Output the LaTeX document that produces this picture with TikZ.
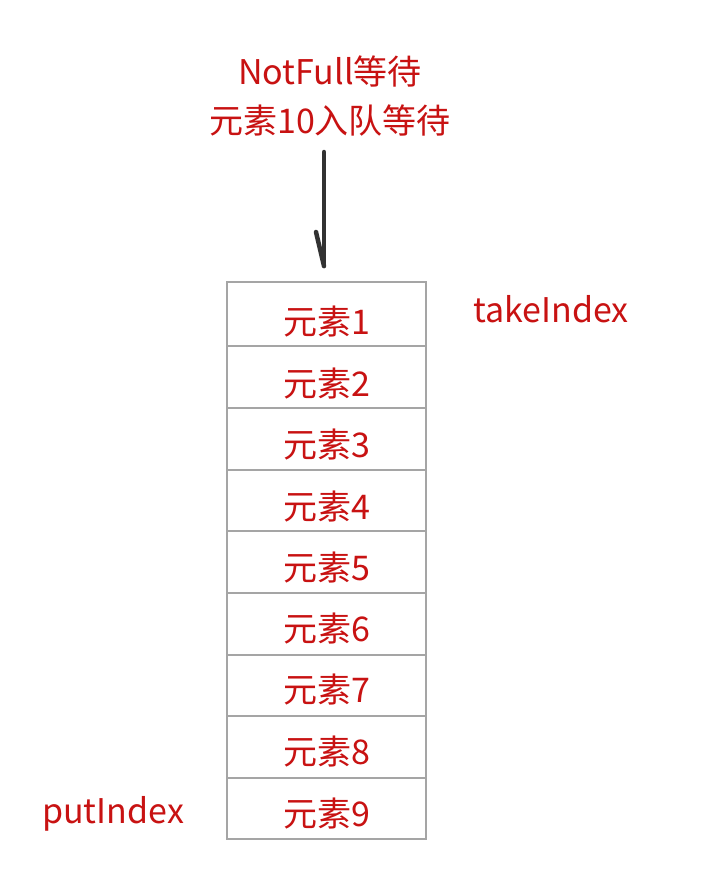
\documentclass[tikz,border=0pt]{standalone}
\usepackage{fontspec}
\setmainfont{Noto Sans CJK SC}
\definecolor{txtred}{RGB}{200,18,18}
\definecolor{gridgray}{RGB}{165,165,165}
\definecolor{arrowdark}{RGB}{50,50,50}
\begin{document}
\begin{tikzpicture}[x=1pt,y=-1pt,
  lbl/.style={text=txtred,font=\fontsize{34}{40}\selectfont,inner sep=0pt},
  cellbox/.style={draw=gridgray,line width=1.5pt,minimum width=199pt,inner sep=0pt,anchor=north},
  pen/.style={draw=arrowdark,line width=4.5pt,line cap=round}]
\useasboundingbox (0,0) rectangle (714,892);
\fill[white] (0,0) rectangle (714,892);
% cells
\node[cellbox,minimum height=64pt] (c1) at (326.5,281) {};
\node[cellbox,minimum height=62pt] (c2) at (326.5,345) {};
\node[cellbox,minimum height=62pt] (c3) at (326.5,407) {};
\node[cellbox,minimum height=61pt] (c4) at (326.5,469) {};
\node[cellbox,minimum height=62pt] (c5) at (326.5,530) {};
\node[cellbox,minimum height=62pt] (c6) at (326.5,592) {};
\node[cellbox,minimum height=61pt] (c7) at (326.5,654) {};
\node[cellbox,minimum height=62pt] (c8) at (326.5,715) {};
\node[cellbox,minimum height=61pt] (c9) at (326.5,777) {};
% cell texts
\node[lbl] (t1) at (327,322) {元素1};
\node[lbl] (t2) at (327,384) {元素2};
\node[lbl] (t3) at (327,445) {元素3};
\node[lbl] (t4) at (327,507) {元素4};
\node[lbl] (t5) at (327,568) {元素5};
\node[lbl] (t6) at (327,629) {元素6};
\node[lbl] (t7) at (327,690) {元素7};
\node[lbl] (t8) at (327,752) {元素8};
\node[lbl] (t9) at (327,814) {元素9};
% side labels
\node[lbl] (take) at (551,309) {takeIndex};
\node[lbl] (put) at (113,814) {putIndex};
% top labels
\node[lbl] (wait1) at (330,71) {NotFull等待};
\node[lbl] (wait2) at (330,121) {元素10入队等待};
% arrow
\coordinate (atop) at (324,152);
\coordinate (atip) at (324,266);
\coordinate (abarb) at (316,232);
\draw[pen] (atop) -- (atip);
\draw[pen] (abarb) -- (atip);
\end{tikzpicture}
\end{document}
